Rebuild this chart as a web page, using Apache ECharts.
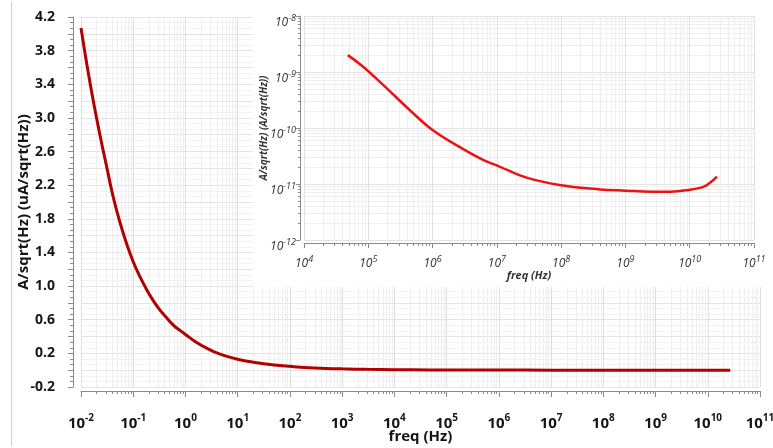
<!DOCTYPE html>
<html>
<head>
<meta charset="utf-8">
<script src="https://cdn.jsdelivr.net/npm/echarts@6/dist/echarts.min.js"></script>
<style>
html,body{margin:0;padding:0;background:#fff;}
#chart{width:773px;height:448px;}
</style>
</head>
<body>
<div id="chart"></div>
<script>
// ---- main plot data (freq in Hz, amplitude in uA/sqrt(Hz)) ----
const mainFreq = [0.01, 0.013, 0.017, 0.023, 0.031, 0.041, 0.055, 0.075, 0.1, 0.13, 0.18, 0.24, 0.32, 0.44, 0.6, 0.8, 1, 1.5, 2.5, 4.6, 10, 20, 50, 117, 300, 1000, 3000, 1e4, 5e4, 1e5, 1e6, 1e7, 1e8, 1e9, 1e10, 2.7e10];
const mainAmp  = [4.07, 3.63, 3.22, 2.80, 2.42, 2.07, 1.77, 1.50, 1.29, 1.13, 0.96, 0.83, 0.72, 0.62, 0.53, 0.47, 0.425, 0.345, 0.265, 0.19, 0.13, 0.095, 0.062, 0.042, 0.027, 0.016, 0.01, 0.006, 0.003, 0.002, 0.001, 0.0005, 0.0003, 0.0002, 0.0002, 0.0003];

// ---- inset data (freq in Hz, amplitude in A/sqrt(Hz)) ----
const insetFreq = [4.8e4, 8.3e4, 1.7e5, 4.4e5, 1e6, 3e6, 6.1e6, 1.1e7, 2.9e7, 1e8, 4e8, 1e9, 2.5e9, 5e9, 8.8e9, 1.6e10, 2.05e10, 2.65e10];
const insetAmp  = [2.0e-9, 1.24e-9, 5.9e-10, 2.1e-10, 9.2e-11, 4.2e-11, 2.7e-11, 2.05e-11, 1.3e-11, 9.5e-12, 8.0e-12, 7.6e-12, 7.3e-12, 7.3e-12, 7.7e-12, 8.8e-12, 1.04e-11, 1.35e-11];

// ---- tick labels ----
const mainXTicks = [1e-2, 1e-1, 1e0, 1e1, 1e2, 1e3, 1e4, 1e5, 1e6, 1e7, 1e8, 1e9, 1e10, 1e11];
const mainYTicks = [-0.2, 0.2, 0.6, 1.0, 1.4, 1.8, 2.2, 2.6, 3.0, 3.4, 3.8, 4.2];
const insetXTicks = [1e4, 1e5, 1e6, 1e7, 1e8, 1e9, 1e10, 1e11];
const insetYTicks = [1e-12, 1e-11, 1e-10, 1e-9, 1e-8];
const logSubSteps = [2, 3, 4, 5, 6, 7, 8, 9];

function minorLog(decades) {
  const out = [];
  for (let i = 0; i < decades.length - 1; i++) {
    logSubSteps.forEach(m => out.push(+(decades[i] * m).toPrecision(6)));
  }
  return out;
}
function expLabel(v) {
  const e = Math.round(Math.log10(v));
  return '{b|10}{s|' + e + '}';
}

const FONT = 'Open Sans';
const TXT = '#151515';
const mainRich = {
  b: {fontSize: 15, fontWeight: 'bold', color: TXT, fontFamily: FONT, verticalAlign: 'bottom'},
  s: {fontSize: 10, fontWeight: 'bold', color: TXT, fontFamily: FONT, verticalAlign: 'bottom', padding: [0, 0, 8, 0]}
};
const insetRich = {
  b: {fontSize: 12, fontStyle: 'italic', color: '#333', fontFamily: FONT, verticalAlign: 'bottom'},
  s: {fontSize: 9, fontStyle: 'italic', color: '#333', fontFamily: FONT, verticalAlign: 'bottom', padding: [0, 0, 6, 0]}
};

const AXIS_GRAY = '#8a8a8a';

const option = {
  animation: false,
  backgroundColor: '#fff',
  grid: [
    {left: 81, right: 13, top: 17, bottom: 61, outerBoundsMode: 'none', containLabel: false},
    {left: 304, right: 19, top: 16, bottom: 208, z: 10, outerBoundsMode: 'none', containLabel: false}
  ],
  graphic: [
    {type: 'line', shape: {x1: 11.5, y1: 2, x2: 11.5, y2: 446}, style: {stroke: '#cfcfcf', lineWidth: 1}, z: 1},
    {type: 'rect', shape: {x: 253, y: 0, width: 520, height: 287}, style: {fill: '#fff'}, z: 5}
  ],
  xAxis: [
    { // main decades
      type: 'log', gridIndex: 0, position: 'bottom', min: 1e-2, max: 1e11, offset: 4, z: 0,
      axisLine: {onZero: false, lineStyle: {color: AXIS_GRAY, width: 1}},
      axisTick: {customValues: mainXTicks, length: 6, lineStyle: {color: AXIS_GRAY}},
      axisLabel: {customValues: mainXTicks, formatter: expLabel, rich: mainRich, margin: 22, hideOverlap: false},
      splitLine: {show: true, lineStyle: {color: '#dedede', width: 1}},
      name: 'freq (Hz)', nameLocation: 'middle', nameGap: 38, nameMoveOverlap: false,
      nameTextStyle: {fontSize: 15, fontWeight: 'bold', color: TXT, fontFamily: FONT}
    },
    { // main minor
      type: 'log', gridIndex: 0, position: 'bottom', min: 1e-2, max: 1e11, offset: 4, z: 0,
      axisLine: {show: false, onZero: false},
      axisTick: {customValues: minorLog(mainXTicks), length: 3, lineStyle: {color: AXIS_GRAY}},
      axisLabel: {show: false},
      splitLine: {show: true, lineStyle: {color: '#eeeeee', width: 1}}
    },
    { // inset decades
      type: 'log', gridIndex: 1, position: 'bottom', min: 1e4, max: 1e11, offset: 3, z: 10,
      axisLine: {onZero: false, lineStyle: {color: AXIS_GRAY, width: 1}},
      axisTick: {customValues: insetXTicks, length: 5, lineStyle: {color: AXIS_GRAY}},
      axisLabel: {customValues: insetXTicks, formatter: expLabel, rich: insetRich, margin: 12, hideOverlap: false},
      splitLine: {show: true, lineStyle: {color: '#e2e2e2', width: 1}},
      name: 'freq (Hz)', nameLocation: 'middle', nameGap: 27, nameMoveOverlap: false,
      nameTextStyle: {fontSize: 11, fontStyle: 'italic', fontWeight: 'bold', color: '#333', fontFamily: FONT}
    },
    { // inset minor
      type: 'log', gridIndex: 1, position: 'bottom', min: 1e4, max: 1e11, offset: 3, z: 10,
      axisLine: {show: false, onZero: false},
      axisTick: {customValues: minorLog(insetXTicks), length: 3, lineStyle: {color: AXIS_GRAY}},
      axisLabel: {show: false},
      splitLine: {show: true, lineStyle: {color: '#efefef', width: 1}}
    }
  ],
  yAxis: [
    { // main
      type: 'value', gridIndex: 0, position: 'left', min: -0.2, max: 4.2, interval: 0.2, offset: 8, z: 0,
      axisLine: {show: true, onZero: false, lineStyle: {color: AXIS_GRAY, width: 1}},
      axisTick: {show: true, length: 5, lineStyle: {color: AXIS_GRAY}},
      minorTick: {show: true, splitNumber: 3, length: 3, lineStyle: {color: AXIS_GRAY}},
      axisLabel: {customValues: mainYTicks, formatter: v => v.toFixed(1), margin: 18, hideOverlap: false,
        fontSize: 14, fontWeight: 'bold', color: TXT, fontFamily: FONT},
      splitLine: {show: true, lineStyle: {color: '#e4e4e4', width: 1}},
      minorSplitLine: {show: true, lineStyle: {color: '#f3f3f3', width: 1}},
      name: 'A/sqrt(Hz) (uA/sqrt(Hz))', nameLocation: 'middle', nameGap: 42, nameMoveOverlap: false,
      nameTextStyle: {fontSize: 15, fontWeight: 'bold', color: TXT, fontFamily: FONT}
    },
    { // inset decades
      type: 'log', gridIndex: 1, position: 'left', min: 1e-12, max: 1e-8, offset: 4, z: 10,
      axisLine: {show: true, onZero: false, lineStyle: {color: AXIS_GRAY, width: 1}},
      axisTick: {customValues: insetYTicks, length: 4, lineStyle: {color: AXIS_GRAY}},
      axisLabel: {customValues: insetYTicks, formatter: expLabel, rich: insetRich, margin: 4, padding: [10, 0, 0, 0], hideOverlap: false},
      splitLine: {show: true, lineStyle: {color: '#e2e2e2', width: 1}},
      name: 'A/sqrt(Hz) (A/sqrt(Hz))', nameLocation: 'middle', nameGap: 31, nameMoveOverlap: false,
      nameTextStyle: {fontSize: 10, fontStyle: 'italic', fontWeight: 'bold', color: '#333', fontFamily: FONT}
    },
    { // inset minor
      type: 'log', gridIndex: 1, position: 'left', min: 1e-12, max: 1e-8, offset: 4, z: 10,
      axisLine: {show: false, onZero: false},
      axisTick: {customValues: minorLog(insetYTicks), length: 2, lineStyle: {color: AXIS_GRAY}},
      axisLabel: {show: false},
      splitLine: {show: true, lineStyle: {color: '#efefef', width: 1}}
    }
  ],
  series: [
    {
      type: 'line', xAxisIndex: 0, yAxisIndex: 0, z: 3,
      data: mainFreq.map((f, i) => [f, mainAmp[i]]),
      showSymbol: false, smooth: 0.4,
      lineStyle: {color: '#b00000', width: 3}
    },
    {
      type: 'line', xAxisIndex: 2, yAxisIndex: 1, z: 12,
      data: insetFreq.map((f, i) => [f, insetAmp[i]]),
      showSymbol: false, smooth: 0.4,
      lineStyle: {color: '#ee1111', width: 2.5}
    }
  ]
};

const chart = echarts.init(document.getElementById('chart'), null, {renderer: 'canvas'});
chart.setOption(option);
</script>
</body>
</html>
